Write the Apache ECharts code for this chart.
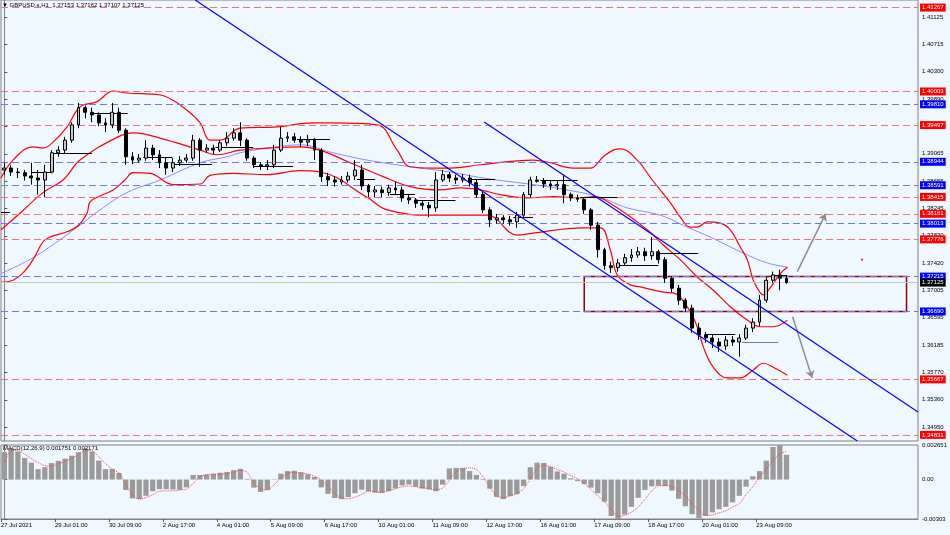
<!DOCTYPE html>
<html><head><meta charset="utf-8">
<script src="https://cdn.jsdelivr.net/npm/echarts@6/dist/echarts.min.js"></script>
<style>html,body{margin:0;padding:0;background:#f0f8ff}#c{width:950px;height:535px}</style>
</head><body><div id="c"></div><script>
// ---------- data ----------
const symbolName = 'GBPUSD.s,H1';
const lastBar = ['1.37153', '1.37162', '1.37107', '1.37125'];
const macdName = 'MACD(12,26,9)';
const macdLast = ['0.001751', '0.002171'];
const xTickLabels = ['27 Jul 2021','29 Jul 01:00','30 Jul 09:00','2 Aug 17:00','4 Aug 01:00','5 Aug 09:00','6 Aug 17:00','10 Aug 01:00','11 Aug 09:00','12 Aug 17:00','16 Aug 01:00','17 Aug 09:00','18 Aug 17:00','20 Aug 01:00','23 Aug 09:00'];
const priceTicks = [1.41125,1.40715,1.40300,1.39890,1.39475,1.39065,1.38655,1.38245,1.37830,1.37420,1.37005,1.36595,1.36185,1.35770,1.35360,1.34950];
const macdTickValues = [0.002651, 0, -0.00303];
const macdTickLabels = ['0.002651', '0.00', '-0.00303'];
// candles: [open, close, low, high]
const candles = [
[1.3882,1.3885,1.3875,1.3893],[1.3885,1.3879,1.3873,1.3890],[1.3879,1.3878,1.3870,1.3885],[1.3878,1.3873,1.3866,1.3882],
[1.3873,1.3870,1.3860,1.3893],[1.3870,1.3867,1.3845,1.3882],[1.3867,1.3879,1.3841,1.3890],[1.3879,1.3908,1.3877,1.3912],
[1.3908,1.3912,1.3902,1.3918],[1.3912,1.3927,1.3906,1.3932],[1.3927,1.3950,1.3923,1.3954],[1.3950,1.3976,1.3945,1.3983],
[1.3976,1.3969,1.3960,1.3979],[1.3969,1.3965,1.3954,1.3976],[1.3965,1.3953,1.3948,1.3969],[1.3953,1.3950,1.3939,1.3960],
[1.3950,1.3969,1.3945,1.3983],[1.3969,1.3942,1.3938,1.3976],[1.3942,1.3902,1.3890,1.3945],[1.3902,1.3897,1.3891,1.3909],
[1.3897,1.3900,1.3893,1.3906],[1.3900,1.3915,1.3896,1.3927],[1.3915,1.3905,1.3897,1.3920],[1.3905,1.3893,1.3885,1.3912],
[1.3893,1.3885,1.3875,1.3900],[1.3885,1.3893,1.3879,1.3900],[1.3893,1.3897,1.3888,1.3903],[1.3897,1.3900,1.3893,1.3906],
[1.3900,1.3927,1.3896,1.3935],[1.3927,1.3912,1.3887,1.3930],[1.3912,1.3915,1.3908,1.3921],[1.3915,1.3912,1.3906,1.3920],
[1.3912,1.3923,1.3909,1.3927],[1.3923,1.3930,1.3918,1.3939],[1.3930,1.3938,1.3926,1.3945],[1.3938,1.3927,1.3918,1.3954],
[1.3927,1.3900,1.3896,1.3930],[1.3900,1.3890,1.3885,1.3903],[1.3890,1.3888,1.3882,1.3894],[1.3888,1.3890,1.3882,1.3897],
[1.3890,1.3912,1.3885,1.3920],[1.3912,1.3930,1.3909,1.3947],[1.3930,1.3932,1.3924,1.3939],[1.3932,1.3927,1.3923,1.3938],
[1.3927,1.3924,1.3917,1.3933],[1.3924,1.3927,1.3918,1.3935],[1.3927,1.3912,1.3897,1.3930],[1.3912,1.3872,1.3864,1.3915],
[1.3872,1.3867,1.3858,1.3878],[1.3867,1.3864,1.3857,1.3873],[1.3864,1.3867,1.3860,1.3873],[1.3867,1.3873,1.3863,1.3879],
[1.3873,1.3882,1.3867,1.3897],[1.3882,1.3858,1.3852,1.3890],[1.3858,1.3849,1.3841,1.3861],[1.3849,1.3852,1.3841,1.3858],
[1.3852,1.3848,1.3841,1.3857],[1.3848,1.3855,1.3843,1.3860],[1.3855,1.3852,1.3846,1.3864],[1.3852,1.3840,1.3834,1.3857],
[1.3840,1.3837,1.3831,1.3845],[1.3837,1.3832,1.3825,1.3840],[1.3832,1.3829,1.3822,1.3837],[1.3829,1.3825,1.3811,1.3834],
[1.3825,1.3867,1.3819,1.3879],[1.3867,1.3875,1.3864,1.3882],[1.3875,1.3870,1.3864,1.3879],[1.3870,1.3867,1.3861,1.3875],
[1.3867,1.3870,1.3863,1.3876],[1.3870,1.3863,1.3857,1.3875],[1.3863,1.3845,1.3840,1.3867],[1.3845,1.3822,1.3817,1.3849],
[1.3822,1.3807,1.3796,1.3826],[1.3807,1.3810,1.3801,1.3816],[1.3810,1.3807,1.3801,1.3814],[1.3807,1.3804,1.3798,1.3813],
[1.3804,1.3814,1.3795,1.3819],[1.3814,1.3845,1.3810,1.3849],[1.3845,1.3867,1.3840,1.3872],[1.3867,1.3865,1.3863,1.3873],
[1.3865,1.3861,1.3855,1.3870],[1.3861,1.3858,1.3852,1.3867],[1.3858,1.3860,1.3852,1.3867],[1.3860,1.3845,1.3832,1.3875],
[1.3845,1.3840,1.3835,1.3848],[1.3840,1.3838,1.3834,1.3845],[1.3838,1.3822,1.3816,1.3841],[1.3822,1.3799,1.3792,1.3825],
[1.3799,1.3762,1.3750,1.3804],[1.3762,1.3738,1.3732,1.3765],[1.3738,1.3735,1.3727,1.3744],[1.3735,1.3742,1.3729,1.3748],
[1.3742,1.3750,1.3738,1.3756],[1.3750,1.3754,1.3744,1.3763],[1.3754,1.3759,1.3750,1.3766],[1.3759,1.3753,1.3745,1.3765],
[1.3753,1.3759,1.3747,1.3781],[1.3759,1.3747,1.3741,1.3762],[1.3747,1.3719,1.3712,1.3751],[1.3719,1.3704,1.3698,1.3722],
[1.3704,1.3686,1.3679,1.3709],[1.3686,1.3674,1.3668,1.3689],[1.3674,1.3644,1.3637,1.3679],[1.3644,1.3634,1.3626,1.3652],
[1.3634,1.3629,1.3622,1.3638],[1.3629,1.3623,1.3614,1.3635],[1.3623,1.3617,1.3608,1.3629],[1.3617,1.3626,1.3611,1.3632],
[1.3626,1.3623,1.3617,1.3632],[1.3623,1.3629,1.3601,1.3635],[1.3629,1.3644,1.3626,1.3649],[1.3644,1.3653,1.3638,1.3659],
[1.3653,1.3686,1.3647,1.3694],[1.3686,1.3716,1.3682,1.3722],[1.3716,1.3724,1.3712,1.3729],[1.3724,1.3719,1.3701,1.3732],
[1.3719,1.37125,1.37107,1.3724]
];
// Bollinger bands & moving average, read as [bar position, price]
const bbUpper = [[-0.5,1.3870],[1.28,1.3897],[4.25,1.3917],[5.73,1.3915],[7.22,1.3924],[9.29,1.3947],[11.22,1.3977],[13.74,1.3985],[16.12,1.4001],[18.19,1.3998],[23.09,1.3995],[25.02,1.3987],[27.10,1.3972],[29.03,1.3953],[30.51,1.3927],[32.0,1.3927],[34.96,1.3945],[40.45,1.3947],[45.79,1.3953],[48.76,1.3953],[55.29,1.3950],[58.25,1.3912],[60.18,1.3887],[63.59,1.3885],[66.12,1.3885],[70.57,1.3890],[78.43,1.3897],[80.96,1.3893],[84.37,1.3885],[86.89,1.3885],[88.82,1.3902],[90.30,1.3912],[91.34,1.3914],[93.86,1.3897],[96.09,1.3867],[98.76,1.3833],[100.24,1.3811],[101.73,1.3796],[102.76,1.3796],[104.25,1.3804],[106.18,1.3802],[107.66,1.3792],[109.14,1.3766],[110.18,1.3747],[111.07,1.3716],[112.11,1.3697],[112.56,1.3694],[113.59,1.3705],[115.08,1.3726],[116.12,1.3736]];
const bbMiddle = [[-0.5,1.3792],[2.32,1.3817],[5.73,1.3848],[8.70,1.3867],[11.22,1.3897],[16.86,1.3932],[19.08,1.3938],[24.13,1.3927],[29.03,1.3912],[31.55,1.3905],[34.96,1.3912],[38.97,1.3915],[43.86,1.3917],[46.83,1.3912],[51.28,1.3893],[56.18,1.3872],[60.18,1.3857],[64.63,1.3852],[67.60,1.3855],[70.57,1.3852],[73.54,1.3845],[77.54,1.3840],[81.40,1.3842],[85.40,1.3840],[87.34,1.3842],[90.30,1.3829],[95.35,1.3792],[97.72,1.3769],[100.24,1.3747],[102.76,1.3721],[105.14,1.3701],[107.66,1.3676],[110.18,1.3656],[112.11,1.3646],[114.04,1.3646],[116.12,1.3656]];
const bbLower = [[-0.5,1.3713],[1.28,1.3716],[2.76,1.3727],[4.25,1.3747],[5.73,1.3774],[6.77,1.3781],[9.29,1.3789],[10.92,1.3798],[12.26,1.3817],[12.70,1.3834],[14.19,1.3843],[16.12,1.3852],[17.90,1.3867],[19.08,1.3878],[21.61,1.3877],[25.02,1.3860],[29.03,1.3861],[30.51,1.3874],[33.92,1.3877],[38.97,1.3875],[43.86,1.3881],[46.83,1.3879],[53.80,1.3841],[56.77,1.3822],[63.59,1.3814],[71.61,1.3814],[76.06,1.3784],[78.43,1.3787],[85.85,1.3795],[88.37,1.3795],[89.86,1.3762],[90.90,1.3724],[92.83,1.3709],[94.31,1.3706],[97.72,1.3698],[99.20,1.3697],[101.28,1.3676],[102.76,1.3646],[103.65,1.3616],[105.14,1.3585],[107.21,1.3569],[109.14,1.3569],[111.07,1.3581],[112.56,1.3591],[114.04,1.3585],[116.12,1.3573]];
const maLine = [[-0.5,1.3726],[4.25,1.3750],[8.25,1.3777],[11.22,1.3799],[14.19,1.3822],[18.19,1.3848],[23.09,1.3867],[29.03,1.3893],[33.03,1.3902],[34.96,1.3908],[38.97,1.3915],[43.86,1.3920],[48.76,1.3908],[53.80,1.3897],[60.18,1.3887],[66.12,1.3879],[71.01,1.3870],[78.43,1.3860],[83.48,1.3852],[88.37,1.3841],[92.38,1.3825],[97.28,1.3814],[101.28,1.3796],[104.69,1.3781],[109.59,1.3757],[113.15,1.3742],[116.12,1.3736]];
const macdHist = [
0.00210,0.00238,0.00215,0.00165,0.00130,0.00080,0.00095,0.00126,0.00143,0.00160,
0.00183,0.00210,0.00238,0.00215,0.00145,0.00080,0.00082,0.00050,-0.00080,-0.00145,
-0.00150,-0.00125,-0.00090,-0.00074,-0.00074,-0.00077,-0.00079,-0.00060,0.00035,0.00035,
0.00038,0.00045,0.00052,0.00058,0.00072,0.00082,0.00005,-0.00062,-0.00095,-0.00080,
-0.00003,0.00045,0.00065,0.00068,0.00056,0.00040,0.00020,-0.00060,-0.00110,-0.00142,
-0.00150,-0.00135,-0.00105,-0.00078,-0.00090,-0.00100,-0.00103,-0.00090,-0.00068,-0.00045,
-0.00038,-0.00055,-0.00070,-0.00076,-0.00090,-0.00040,0.00085,0.00089,0.00089,0.00065,
0.00035,0.00005,-0.00070,-0.00135,-0.00150,-0.00128,-0.00113,-0.00050,0.00095,0.00130,
0.00127,0.00098,0.00062,0.00045,0.00010,-0.00012,-0.00035,-0.00062,-0.00105,-0.00170,
-0.00280,-0.00303,-0.00268,-0.00210,-0.00140,-0.00080,-0.00052,-0.00047,-0.00050,-0.00085,
-0.00148,-0.00205,-0.00266,-0.00296,-0.00280,-0.00252,-0.00228,-0.00210,-0.00175,-0.00125,
-0.00055,0.00025,0.00065,0.00145,0.00250,0.00265,0.00190];
const macdSignal = [
0.00130,0.00220,0.00222,0.00195,0.00160,0.00130,0.00107,0.00102,0.00120,0.00140,
0.00163,0.00190,0.00222,0.00220,0.00175,0.00122,0.00078,0.00050,-0.00035,-0.00115,
-0.00150,-0.00138,-0.00116,-0.00090,-0.00087,-0.00087,-0.00080,-0.00074,-0.00030,0.00020,
0.00037,0.00040,0.00042,0.00045,0.00058,0.00071,0.00055,-0.00025,-0.00070,-0.00080,
-0.00040,0.00010,0.00045,0.00055,0.00050,0.00043,0.00025,-0.00005,-0.00055,-0.00105,
-0.00142,-0.00148,-0.00135,-0.00115,-0.00088,-0.00095,-0.00098,-0.00085,-0.00070,-0.00056,
-0.00049,-0.00055,-0.00062,-0.00070,-0.00080,-0.00065,-0.00005,0.00062,0.00085,0.00090,
0.00078,0.00020,-0.00060,-0.00125,-0.00138,-0.00125,-0.00108,-0.00070,0.00003,0.00085,
0.00110,0.00097,0.00077,0.00058,0.00030,0.00005,-0.00030,-0.00076,-0.00125,-0.00170,
-0.00230,-0.00283,-0.00275,-0.00250,-0.00212,-0.00150,-0.00090,-0.00047,-0.00047,-0.00053,
-0.00085,-0.00125,-0.00185,-0.00238,-0.00275,-0.00272,-0.00256,-0.00240,-0.00212,-0.00185,
-0.00115,-0.00055,0.00020,0.00080,0.00145,0.00195,0.00217];
const redLevels = [1.41267, 1.40003, 1.39497, 1.38415, 1.38161, 1.37776, 1.35667, 1.34831];
const blueLevels = [1.39810, 1.38944, 1.38591, 1.38013, 1.37215, 1.36690];
const bidPrice = 1.37125;
const channelA = [[28.3, 1.41381], [126.5, 1.34739]];
const channelB = [[71.16, 1.39544], [135.5, 1.35176]];
const segStart = [-0.5,4.1,6.8,13.2,20.6,25.0,31.3,36.9,43.4,52.3,57.2,60.9,69.1,75.5,79.5,85.4,90.9,97.0,104.0,109.4,114.3];
const segEnd   = [0.84,7.1,13.0,18.3,24.9,30.8,36.9,42.8,48.3,55.0,60.9,66.9,72.8,78.4,85.0,90.9,97.0,102.9,108.4,114.8,116.1];
const segLevel = [1.3819,1.3879,1.3908,1.3968,1.3902,1.3891,1.3917,1.3888,1.3929,1.3868,1.3846,1.3837,1.3868,1.3811,1.3867,1.3841,1.3739,1.3757,1.3635,1.3622,1.3724];
const zoneBox = [[86.0, 1.37215], [133.8, 1.36690]];
const arrowUp = [[117.6, 1.3729], [121.8, 1.3816]];
const arrowDown = [[116.9, 1.3661], [119.8, 1.3569]];
const markerDot = [127.2, 1.3747];

// ---------- layout / style ----------
const FONT = 'Liberation Sans, Arial, sans-serif';
const AX = '#808080';
const nSlots = 136;
const cats = Array.from({length: nSlots}, (_, i) => 'b' + i);
const priceMin = 1.34739, priceMax = 1.41381;

function levelLine(v, red) {
  return {
    yAxis: v,
    lineStyle: {color: red ? '#f07474' : '#7474f2', type: [7, 4], width: 1},
    label: {show: true, position: 'end', distance: 2, formatter: v.toFixed(5), color: '#fff',
      backgroundColor: red ? '#ff0000' : '#0000ff', padding: [1, 2, 1, 2], fontSize: 6, fontFamily: FONT}
  };
}
const levelData = redLevels.map(v => levelLine(v, true)).concat(blueLevels.map(v => levelLine(v, false)));
levelData.push({yAxis: bidPrice, lineStyle: {color: '#c4c4c4', type: 'solid', width: 1},
  label: {show: true, position: 'end', distance: 2, formatter: bidPrice.toFixed(5), color: '#fff',
    backgroundColor: '#000', padding: [1, 2, 1, 2], fontSize: 6, fontFamily: FONT}});

const segData = segStart.map((s, i) => [
  {coord: [s, segLevel[i]], lineStyle: {color: i === 19 ? '#808080' : '#000', width: 1, type: 'solid'}},
  {coord: [segEnd[i], segLevel[i]]}
]);

const chart = echarts.init(document.getElementById('c'), null, {renderer: 'canvas'});
const option = {
  animation: false,
  backgroundColor: '#f0f8ff',
  textStyle: {fontFamily: FONT},
  title: [
    {text: '\u25BC ' + symbolName + '  ' + lastBar.join(' '), left: 2, top: 2, padding: 0,
      textStyle: {fontSize: 6, fontWeight: 'normal', color: '#000', fontFamily: FONT}},
    {text: macdName + ' ' + macdLast.join(' '), left: 3, top: 445, padding: 0,
      textStyle: {fontSize: 6, fontWeight: 'normal', color: '#000', fontFamily: FONT}}
  ],
  grid: [
    {left: 1, right: 32, top: 0, height: 441, show: true, borderColor: AX, borderWidth: 1, containLabel: false, outerBoundsMode: 'none'},
    {left: 1, right: 32, top: 445, height: 74, show: true, borderColor: AX, borderWidth: 1, containLabel: false, outerBoundsMode: 'none'}
  ],
  xAxis: [
    {type: 'category', gridIndex: 0, data: cats, show: false, boundaryGap: true},
    {type: 'value', gridIndex: 0, min: -0.5, max: nSlots - 0.5, show: false},
    {type: 'category', gridIndex: 1, data: cats, show: false, boundaryGap: true, position: 'top'},
    {type: 'value', gridIndex: 1, min: -0.5, max: nSlots - 0.5, position: 'bottom',
      axisLine: {show: true, lineStyle: {color: AX}}, splitLine: {show: false},
      axisTick: {show: true, customValues: xTickLabels.map((_, k) => k * 8 - 0.5), length: 3, lineStyle: {color: '#555'}},
      axisLabel: {show: true, customValues: xTickLabels.map((_, k) => k * 8 - 0.5),
        formatter: v => xTickLabels[Math.round((v + 0.5) / 8)] || '', align: 'left', margin: 3,
        fontSize: 6, color: '#000', fontFamily: FONT}}
  ],
  yAxis: [
    {type: 'value', gridIndex: 0, position: 'right', min: priceMin, max: priceMax,
      splitLine: {show: false}, axisLine: {show: true, lineStyle: {color: AX}},
      axisTick: {show: true, customValues: priceTicks, length: 3, lineStyle: {color: '#555'}},
      axisLabel: {show: true, customValues: priceTicks, formatter: v => v.toFixed(5), margin: 4,
        fontSize: 6, color: '#000', fontFamily: FONT}},
    {type: 'value', gridIndex: 1, position: 'right', min: -0.00303, max: 0.002651,
      splitLine: {show: false}, axisLine: {show: true, lineStyle: {color: AX}},
      axisTick: {show: true, customValues: macdTickValues, length: 3, lineStyle: {color: '#555'}},
      axisLabel: {show: true, customValues: macdTickValues, margin: 4, fontSize: 6, color: '#000', fontFamily: FONT,
        formatter: v => {
          let best = 0;
          macdTickValues.forEach((t, i) => { if (Math.abs(t - v) < Math.abs(macdTickValues[best] - v)) best = i; });
          return macdTickLabels[best];
        }}}
  ],
  series: [
    {name: 'levels', type: 'line', xAxisIndex: 1, yAxisIndex: 0, data: channelA, z: 1,
      symbol: 'none', lineStyle: {color: 'rgba(0,0,0,0)', width: 0}, silent: true,
      markLine: {symbol: ['none', 'none'], precision: 6, silent: true, animation: false, data: levelData}},
    {name: 'dailySeg', type: 'line', xAxisIndex: 1, yAxisIndex: 0, data: channelA, z: 3,
      symbol: 'none', lineStyle: {color: 'rgba(0,0,0,0)', width: 0}, silent: true,
      markLine: {symbol: ['none', 'none'], precision: 6, silent: true, label: {show: false}, data: segData}},
    {name: 'MA', type: 'line', xAxisIndex: 1, yAxisIndex: 0, data: maLine, smooth: 0.4, symbol: 'none', z: 3,
      lineStyle: {color: '#8a8aff', width: 1}},
    {name: 'BB upper', type: 'line', xAxisIndex: 1, yAxisIndex: 0, data: bbUpper, smooth: 0.4, symbol: 'none', z: 4,
      lineStyle: {color: '#ff0000', width: 1.2}},
    {name: 'BB middle', type: 'line', xAxisIndex: 1, yAxisIndex: 0, data: bbMiddle, smooth: 0.4, symbol: 'none', z: 4,
      lineStyle: {color: '#ff0000', width: 1.2}},
    {name: 'BB lower', type: 'line', xAxisIndex: 1, yAxisIndex: 0, data: bbLower, smooth: 0.4, symbol: 'none', z: 4,
      lineStyle: {color: '#ff0000', width: 1.2}},
    {name: 'price', type: 'candlestick', xAxisIndex: 0, yAxisIndex: 0, data: candles, barWidth: '50%', z: 5,
      itemStyle: {color: '#c8c8c8', color0: '#000000', borderColor: '#000000', borderColor0: '#000000', borderWidth: 1}},
    {name: 'channelA', type: 'line', xAxisIndex: 1, yAxisIndex: 0, data: channelA, symbol: 'none', z: 6,
      lineStyle: {color: '#0000ff', width: 1.2}},
    {name: 'channelB', type: 'line', xAxisIndex: 1, yAxisIndex: 0, data: channelB, symbol: 'none', z: 6,
      lineStyle: {color: '#0000ff', width: 1.2},
      markArea: {silent: true, precision: 6, itemStyle: {color: 'rgba(0,0,0,0)', borderColor: '#8b0000', borderWidth: 1.5},
        data: [[{coord: zoneBox[0]}, {coord: zoneBox[1]}]]},
      markLine: {silent: true, precision: 6, symbol: ['none', 'arrow'], symbolSize: 7, label: {show: false},
        lineStyle: {color: '#8c8c8c', width: 1.5, type: 'solid'},
        data: [[{coord: arrowUp[0]}, {coord: arrowUp[1]}], [{coord: arrowDown[0]}, {coord: arrowDown[1]}]]}},
    {name: 'dot', type: 'scatter', xAxisIndex: 1, yAxisIndex: 0, data: [markerDot], symbol: 'rect', symbolSize: 2,
      itemStyle: {color: '#ff0000'}, z: 6},
    {name: 'MACD', type: 'bar', xAxisIndex: 2, yAxisIndex: 1, data: macdHist, barWidth: '78%',
      itemStyle: {color: '#9a9a9a'}},
    {name: 'Signal', type: 'line', xAxisIndex: 2, yAxisIndex: 1, data: macdSignal, symbol: 'none', smooth: 0.3,
      lineStyle: {color: '#ff4040', width: 1, type: 'dotted'}, z: 5}
  ]
};
chart.setOption(option);
</script></body></html>
